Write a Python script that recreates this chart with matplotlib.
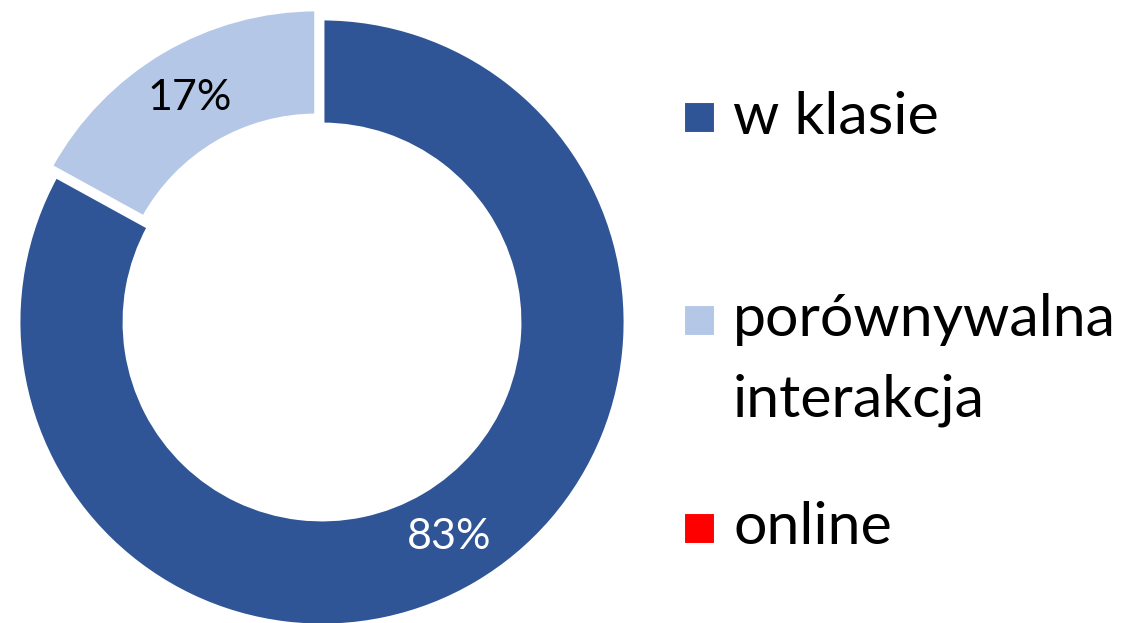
import matplotlib
matplotlib.use("Agg")
import matplotlib.pyplot as plt
from matplotlib.patches import Rectangle

categories = ["w klasie", "porównywalna\ninterakcja", "online"]
values = [83, 17, 0]
colors = ["#2F5597", "#B4C7E7", "#FF0000"]
label_colors = ["white", "black", "black"]

plt.rcParams['font.family'] = ['Lato', 'DejaVu Sans']

W, H = 1125, 623
fig = plt.figure(figsize=(W / 100, H / 100), dpi=100)
fig.patch.set_facecolor("white")
ax = fig.add_axes([0, 0, 1, 1])

vals = [v for v in values if v > 0]
cols = [c for v, c in zip(values, colors) if v > 0]
lcols = [c for v, c in zip(values, label_colors) if v > 0]
explode = [0, 10.5][:len(vals)]

R = 304
wedges, texts, autotexts = ax.pie(
    vals, colors=cols, startangle=90, counterclock=False,
    center=(322, H - 322), radius=R, explode=explode,
    wedgeprops=dict(width=107, edgecolor="white", linewidth=3.5),
    autopct=lambda p: f"{p:.0f}%", pctdistance=0.82,
    textprops=dict(fontsize=31), frame=True)
ax.set_xlim(0, W)
ax.set_ylim(0, H)
ax.set_aspect("equal")
ax.axis("off")
for t, c in zip(autotexts, lcols):
    t.set_color(c)

# legend
sq = 31
rows_y = [117, 320, 528]
fs = 42.5
for lab, col, yc in zip(categories, colors, rows_y):
    ax.add_patch(Rectangle((684, H - yc - sq / 2), sq, sq, facecolor=col,
                           edgecolor="white", linewidth=1.5))
    lines = lab.split("\n")
    for i, line in enumerate(lines):
        ax.text(733, H - yc - 80 * i, line, fontsize=fs, va="center", ha="left")

fig.savefig("out.png", dpi=100, facecolor="white")
